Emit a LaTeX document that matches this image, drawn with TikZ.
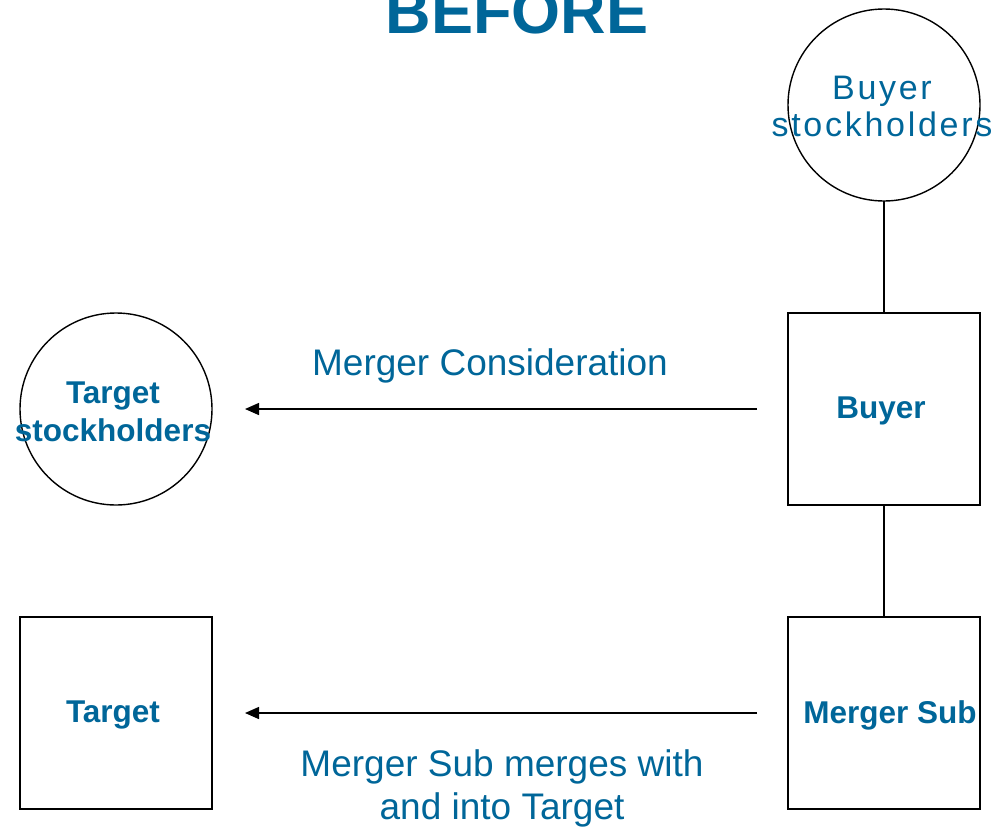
\documentclass[tikz,border=0pt]{standalone}
\usepackage{fontspec}
\setmainfont{Liberation Sans}
\newfontfamily\widefont[LetterSpace=8]{Liberation Sans}
\usepackage{tikz}
\usetikzlibrary{arrows.meta, positioning}
\definecolor{dealblue}{RGB}{0,102,153}

\begin{document}
\begin{tikzpicture}[x=1pt, y=-1pt, line width=1.4pt]

	\tikzset{
		party/.style={
				rectangle, draw=black, line width=1.4pt, inner sep=0pt, outer sep=0pt, minimum size=192pt
			},
		holders/.style={
				circle, draw=black, line width=1.4pt, inner sep=0pt, outer sep=0pt, minimum size=192pt
			},
		partylabel/.style={
				text=dealblue, font=\fontsize{31.5}{38}\selectfont\bfseries, align=center
			},
		flow/.style={
				-{Triangle[length=14pt, width=12pt]}, line width=1.4pt
			},
		caption/.style={
				text=dealblue, font=\fontsize{37}{43}\selectfont, align=center
			},
	}
	\useasboundingbox (0,0) rectangle (995,827);

	\node[anchor=base, text=dealblue, font=\fontsize{63}{70}\selectfont\bfseries] (title) at (517,33) {BEFORE};

	\node[holders](bstock) at (884,105){};
	\node[text=dealblue, font=\fontsize{34}{37}\selectfont\widefont, align=center] (btext) at (882,106) {Buyer\\stockholders};
	\node[party] (buyer) at (884,409) {};
	\node[partylabel] (btitle) at (881,411) {Buyer};
	\node[party, below=112pt of buyer] (sub) {};
	\node[partylabel] (stitle) at (890,715) {Merger Sub};

	\node[holders] (tstock) at (116,409) {};
	\node[partylabel] (ttext) at (113,412) {Target\\stockholders};
	\node[party] (target) at (116,713) {};
	\node[partylabel] (ttitle) at (113,715) {Target};

	\draw (bstock) -- (buyer);
	\draw (buyer) -- (sub);

	\draw[flow, shorten <=31pt, shorten >=33pt] (buyer.west) -- (tstock.east);
	\draw[flow, shorten <=31pt, shorten >=33pt] (sub.west) -- (target.east);

	\node[caption] (pay) at (490,366) {Merger Consideration};
	\node[caption] (merge) at (502,788) {Merger Sub merges with\\and into Target};

\end{tikzpicture}
\end{document}
